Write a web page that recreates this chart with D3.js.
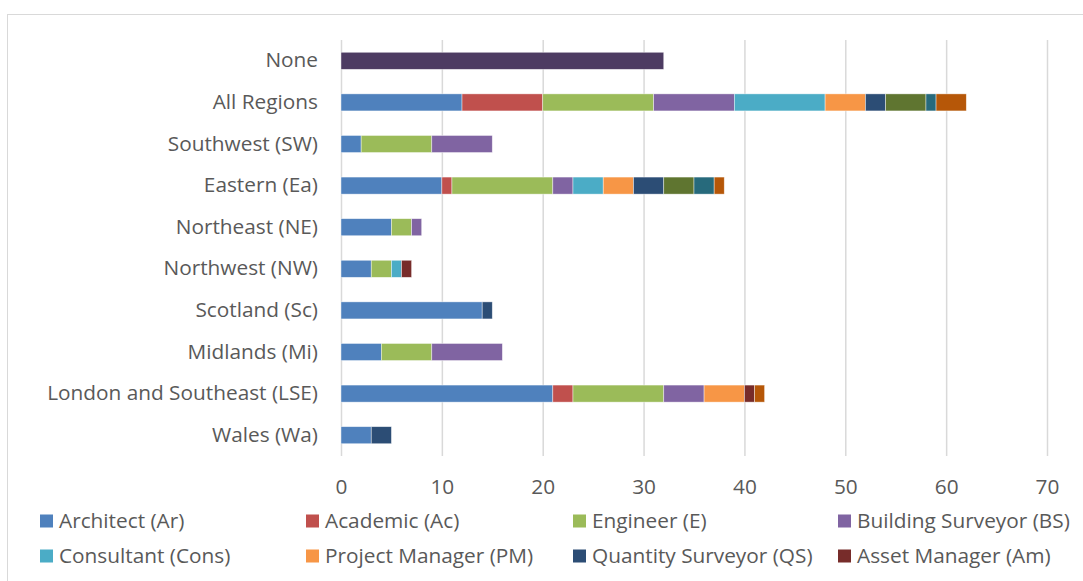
<!DOCTYPE html>
<html>
<head>
<meta charset="utf-8">
<script src="https://cdn.jsdelivr.net/npm/d3@7"></script>
<style>
  body { margin: 0; background: #fff; overflow: hidden; }
  text { font-family: "Open Sans", sans-serif; fill: #595959; }
</style>
</head>
<body>
<div id="chart"></div>
<script>
// categories, top to bottom
const categories = ["None", "All Regions", "Southwest (SW)", "Eastern (Ea)", "Northeast (NE)",
  "Northwest (NW)", "Scotland (Sc)", "Midlands (Mi)", "London and Southeast (LSE)", "Wales (Wa)"];

const seriesNames = ["Architect (Ar)", "Academic (Ac)", "Engineer (E)", "Building Surveyor (BS)",
  "Consultant (Cons)", "Project Manager (PM)", "Quantity Surveyor (QS)", "Asset Manager (Am)",
  "Contractor (Co)", "None", "Facilities Manager (FM)", "Other (O)"];

const seriesColors = ["#4F81BD", "#C0504D", "#9BBB59", "#8064A2", "#4BACC6", "#F79646",
  "#2C4D75", "#772C2A", "#5F7530", "#4D3B62", "#276A7C", "#B65708"];

// values per series, in category order
const architect   = [0, 12, 2, 10, 5, 3, 14, 4, 21, 3];
const academic    = [0, 8, 0, 1, 0, 0, 0, 0, 2, 0];
const engineer    = [0, 11, 7, 10, 2, 2, 0, 5, 9, 0];
const bldSurveyor = [0, 8, 6, 2, 1, 0, 0, 7, 4, 0];
const consultant  = [0, 9, 0, 3, 0, 1, 0, 0, 0, 0];
const projManager = [0, 4, 0, 3, 0, 0, 0, 0, 4, 0];
const qtySurveyor = [0, 2, 0, 3, 0, 0, 1, 0, 0, 2];
const assetMgr    = [0, 0, 0, 0, 0, 1, 0, 0, 1, 0];
const contractor  = [0, 4, 0, 3, 0, 0, 0, 0, 0, 0];
const noneRole    = [32, 0, 0, 0, 0, 0, 0, 0, 0, 0];
const facilities  = [0, 1, 0, 2, 0, 0, 0, 0, 0, 0];
const other       = [0, 3, 0, 1, 0, 0, 0, 0, 1, 0];

const seriesValues = [architect, academic, engineer, bldSurveyor, consultant, projManager,
  qtySurveyor, assetMgr, contractor, noneRole, facilities, other];

const xTicks = [0, 10, 20, 30, 40, 50, 60, 70];

const W = 1083, H = 581;
const plot = { left: 341, right: 1047, top: 40, bottom: 456 };
const fontSize = "20.8px";

const svg = d3.select("#chart").append("svg")
  .attr("width", W)
  .attr("height", H);

// outer frame (cropped at right and bottom)
svg.append("line").attr("x1", 7.5).attr("x2", 7.5).attr("y1", 14).attr("y2", H)
  .attr("stroke", "#D9D9D9").attr("stroke-width", 1);
svg.append("line").attr("x1", 7).attr("x2", W).attr("y1", 14.5).attr("y2", 14.5)
  .attr("stroke", "#D9D9D9").attr("stroke-width", 1);

// build table for stacking
const table = categories.map(function (c, i) {
  let row = { cat: c };
  seriesNames.forEach(function (s, j) { row[s] = seriesValues[j][i]; });
  return row;
});

const stack = d3.stack().keys(seriesNames)(table);

const x = d3.scaleLinear()
  .domain([0, 70])
  .range([plot.left, plot.right]);

const y = d3.scaleBand()
  .domain(categories)
  .range([plot.top, plot.bottom])
  .paddingInner(0.59)
  .paddingOuter(0.295);

// gridlines
svg.append("g")
  .attr("transform", "translate(0," + plot.bottom + ")")
  .call(d3.axisBottom(x).tickValues(xTicks).tickSize(-(plot.bottom - plot.top)).tickFormat(""))
  .call(g => g.select(".domain").remove())
  .call(g => g.selectAll("line").attr("stroke", "#D9D9D9").attr("stroke-width", 1.5));

// x tick labels
svg.append("g")
  .attr("transform", "translate(0," + plot.bottom + ")")
  .call(d3.axisBottom(x).tickValues(xTicks).tickSize(0).tickPadding(23))
  .call(g => g.select(".domain").remove())
  .selectAll("text")
  .style("font-size", fontSize)
  .style("font-family", "'Open Sans', sans-serif")
  .attr("fill", "#595959");

// bars
svg.append("g")
  .selectAll("g")
  .data(stack)
  .join("g")
  .attr("fill", function (d, i) { return seriesColors[i]; })
  .selectAll("rect")
  .data(function (d) { return d.filter(function (p) { return p[1] > p[0]; }); })
  .join("rect")
  .attr("x", function (d) { return x(d[0]); })
  .attr("width", function (d) { return x(d[1]) - x(d[0]); })
  .attr("y", function (d) { return y(d.data.cat); })
  .attr("height", y.bandwidth())
  .attr("stroke", "#ffffff")
  .attr("stroke-opacity", 0.6)
  .attr("stroke-width", 0.7);

// category labels
svg.append("g")
  .attr("transform", "translate(" + plot.left + ",0)")
  .call(d3.axisLeft(y).tickSize(0).tickPadding(23))
  .call(g => g.select(".domain").remove())
  .selectAll("text")
  .style("font-size", fontSize)
  .style("font-family", "'Open Sans', sans-serif")
  .attr("fill", "#595959");

// legend, 4 columns; the picture is cropped after the second row
const legCols = [40, 306, 573, 838];
const legRows = [521, 556];
const legend = svg.append("g")
  .selectAll("g")
  .data(seriesNames.slice(0, legCols.length * legRows.length))
  .join("g")
  .attr("transform", function (d, i) {
    return "translate(" + legCols[i % 4] + "," + legRows[Math.floor(i / 4)] + ")";
  });

legend.append("rect")
  .attr("x", 0).attr("y", -6.5)
  .attr("width", 13).attr("height", 13)
  .attr("fill", function (d, i) { return seriesColors[i]; });

legend.append("text")
  .attr("x", 19)
  .attr("dy", "0.35em")
  .style("font-size", fontSize)
  .text(function (d) { return d; });
</script>
</body>
</html>
